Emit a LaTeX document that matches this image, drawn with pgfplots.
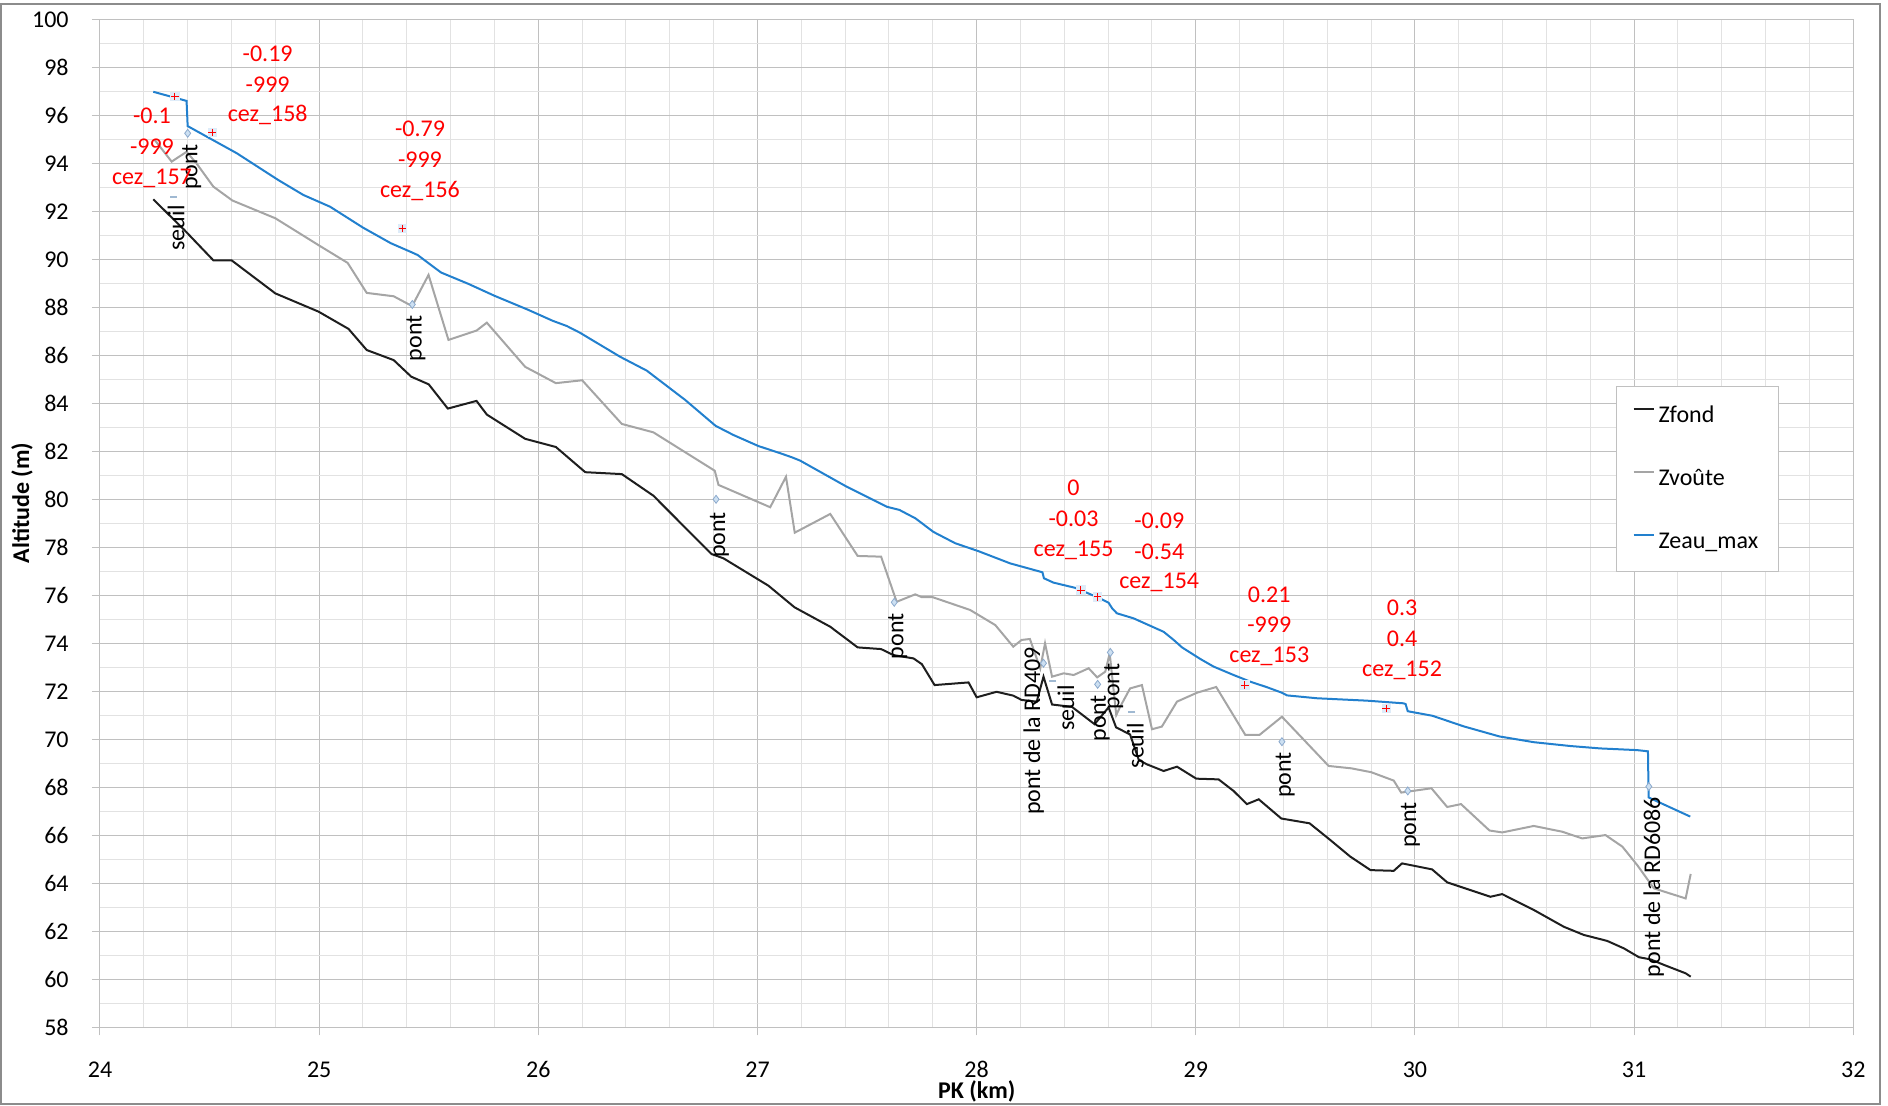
\documentclass[border=0pt]{standalone}
\usepackage{pgfplots}
\pgfplotsset{compat=1.18}
\usepackage{fontspec}
\setmainfont{Carlito}

\definecolor{gridmaj}{RGB}{192,192,192}
\definecolor{gridmin}{RGB}{226,226,226}
\definecolor{framecol}{RGB}{140,140,140}
\definecolor{fondcol}{RGB}{30,30,30}
\definecolor{voutecol}{RGB}{165,165,165}
\definecolor{eaucol}{RGB}{34,128,206}
\definecolor{diafill}{RGB}{205,224,242}
\definecolor{diaedge}{RGB}{140,170,205}
\definecolor{plusbg}{RGB}{222,236,249}
\definecolor{seuilcol}{RGB}{160,185,210}

\newcommand{\lbl}{\fontsize{12}{14}\selectfont}

\begin{document}
\begin{tikzpicture}
% page frame (1 px = 0.5 pt)
\useasboundingbox (-50pt,-38.85pt) rectangle (894pt,513.65pt);
\draw[framecol, line width=0.6pt] (-49.5pt,-38.35pt) rectangle (890pt,511.65pt);
\begin{axis}[
  at={(0pt,0pt)}, anchor=south west,
  scale only axis, width=876.65pt, height=504pt,
  xmin=24, xmax=32, ymin=58, ymax=100,
  xtick={24,25,...,32}, ytick={58,60,...,100},
  minor x tick num=4, minor y tick num=1,
  grid=both,
  major grid style={draw=gridmaj, line width=0.5pt},
  minor grid style={draw=gridmin, line width=0.5pt},
  axis line style={draw=gridmaj, line width=0.5pt},
  tick pos=left, tick align=outside,
  major tick length=4pt, minor tick length=0pt,
  tick style={draw=gridmaj, line width=0.5pt},
  /pgf/number format/assume math mode=true,
  ticklabel style={font=\lbl, inner sep=0pt},
  xticklabel style={anchor=center, yshift=-17.2pt},
  yticklabel style={anchor=east, xshift=-11.5pt},
  xlabel={\bfseries PK (km)},
  ylabel={\bfseries Altitude (m)},
  label style={font=\lbl, inner sep=0pt},
  xlabel style={at={(axis description cs:0.5,-0.0640)}, anchor=center},
  ylabel style={at={(axis description cs:-0.0445,0.52)}, anchor=center},
  legend style={at={(rel axis cs:0.8647,0.6362)}, anchor=north west,
    draw=gridmaj, fill=white, font=\lbl,
    inner xsep=8pt, inner ysep=7pt, row sep=16pt,
    nodes={inner sep=2pt, text height=9pt, text depth=2.5pt},
    cells={anchor=west}},
  legend image code/.code={\draw[#1] (0pt,3.6pt) -- (10pt,3.6pt);},
  legend cell align=left,
]

% Zfond
\addplot[fondcol, line width=1pt] coordinates {
(24.243,92.50) (24.385,91.22) (24.517,89.96) (24.600,89.96) (24.800,88.58)
(24.997,87.82) (25.134,87.10) (25.217,86.22) (25.340,85.80) (25.420,85.11)
(25.500,84.79) (25.587,83.78) (25.718,84.10) (25.765,83.53) (25.940,82.52)
(26.080,82.18) (26.214,81.13) (26.381,81.05) (26.525,80.15) (26.790,77.72)
(26.845,77.54) (27.050,76.40) (27.169,75.50) (27.332,74.69) (27.457,73.83)
(27.564,73.76) (27.620,73.51) (27.712,73.37) (27.750,73.13) (27.808,72.26)
(27.963,72.37) (28.000,71.75) (28.091,71.98) (28.167,71.82) (28.205,71.64)
(28.274,71.57) (28.305,72.61) (28.344,71.45) (28.435,71.35) (28.538,70.63)
(28.602,71.33) (28.636,70.50) (28.700,70.20) (28.740,69.14) (28.776,68.96)
(28.853,68.68) (28.914,68.86) (29.002,68.36) (29.104,68.33) (29.172,67.85)
(29.233,67.30) (29.287,67.50) (29.390,66.70) (29.519,66.50) (29.614,65.80)
(29.705,65.11) (29.797,64.55) (29.903,64.52) (29.941,64.83) (30.078,64.58)
(30.147,64.04) (30.344,63.44) (30.398,63.55) (30.542,62.89) (30.679,62.19)
(30.770,61.85) (30.877,61.60) (30.953,61.29) (31.022,60.92) (31.075,60.83)
(31.136,60.60) (31.235,60.25) (31.258,60.11)
};
\addlegendentry{Zfond}

% Zvoute
\addplot[voutecol, line width=1pt] coordinates {
(24.250,94.97) (24.327,94.07) (24.395,94.48) (24.440,94.00) (24.517,93.03)
(24.604,92.45) (24.800,91.71) (24.999,90.58) (25.130,89.85) (25.217,88.60)
(25.340,88.46) (25.424,88.05) (25.499,89.35) (25.590,86.64) (25.718,87.03)
(25.765,87.36) (25.940,85.52) (26.080,84.84) (26.200,84.96) (26.381,83.14)
(26.525,82.79) (26.805,81.19) (26.822,80.60) (27.058,79.67) (27.130,80.94)
(27.170,78.61) (27.332,79.39) (27.457,77.64) (27.564,77.61) (27.635,75.73)
(27.720,76.04) (27.750,75.92) (27.800,75.92) (27.970,75.39) (28.085,74.76)
(28.167,73.86) (28.205,74.14) (28.243,74.18) (28.290,72.95) (28.312,74.00)
(28.344,72.61) (28.397,72.75) (28.443,72.68) (28.511,72.96) (28.550,72.58)
(28.587,72.82) (28.607,73.58) (28.637,71.01) (28.655,71.36) (28.700,72.12)
(28.754,72.26) (28.800,70.42) (28.845,70.53) (28.914,71.57) (29.005,71.94)
(29.093,72.18) (29.226,70.18) (29.290,70.18) (29.393,70.94) (29.606,68.89)
(29.710,68.79) (29.800,68.63) (29.903,68.28) (29.937,67.78) (30.075,67.96)
(30.147,67.18) (30.210,67.30) (30.340,66.20) (30.398,66.12) (30.542,66.39)
(30.672,66.15) (30.763,65.87) (30.869,66.01) (30.946,65.53) (31.014,64.76)
(31.090,63.79) (31.235,63.37) (31.258,64.39)
};
\addlegendentry{Zvoûte}

% Zeau_max
\addplot[eaucol, line width=1pt] coordinates {
(24.243,96.98) (24.395,96.60) (24.400,95.55) (24.624,94.42) (24.814,93.30)
(24.928,92.68) (25.050,92.19) (25.200,91.32) (25.327,90.67) (25.425,90.28)
(25.449,90.18) (25.556,89.45) (25.680,88.98) (25.800,88.48) (25.955,87.89)
(26.065,87.44) (26.130,87.22) (26.190,86.94) (26.373,85.94) (26.495,85.36)
(26.670,84.14) (26.809,83.06) (26.890,82.68) (27.004,82.22) (27.104,81.92)
(27.157,81.75) (27.195,81.61) (27.408,80.52) (27.590,79.69) (27.647,79.56)
(27.720,79.21) (27.803,78.64) (27.902,78.17) (28.008,77.84) (28.153,77.33)
(28.300,76.96) (28.307,76.71) (28.350,76.53) (28.450,76.31) (28.556,75.90)
(28.602,75.69) (28.618,75.46) (28.640,75.25) (28.716,75.04) (28.853,74.48)
(28.899,74.14) (28.937,73.83) (29.020,73.35) (29.081,73.03) (29.172,72.68)
(29.249,72.40) (29.325,72.17) (29.393,71.94) (29.416,71.83) (29.553,71.71)
(29.781,71.61) (29.947,71.50) (29.957,71.47) (29.967,71.17) (30.080,70.98)
(30.222,70.54) (30.385,70.12) (30.542,69.88) (30.709,69.72) (30.846,69.62)
(31.013,69.55) (31.063,69.50) (31.066,67.58) (31.108,67.40) (31.256,66.78)
};
\addlegendentry{Zeau\_max}

% measured water levels (cez stations)
\addplot[forget plot, only marks, color=plusbg, mark=square*, mark size=2.1pt,
  mark options={draw=plusbg, fill=plusbg}] coordinates {
(24.342,96.78) (24.512,95.28) (25.380,91.29) (28.476,76.22) (28.552,75.94)
(29.223,72.26) (29.869,71.29)
};
\addplot[forget plot, only marks, color=red, mark=+, mark size=1.9pt,
  mark options={draw=red, line width=0.5pt}] coordinates {
(24.342,96.78) (24.512,95.28) (25.380,91.29) (28.476,76.22) (28.552,75.94)
(29.223,72.26) (29.869,71.29)
};

% bridges (pont)
\addplot[forget plot, only marks, color=diaedge, mark=diamond*, mark size=2pt,
  mark options={draw=diaedge, fill=diafill, line width=0.4pt}] coordinates {
(24.400,95.25) (25.425,88.12) (26.811,80.00) (27.624,75.71) (28.305,73.17)
(28.552,72.29) (28.610,73.62) (29.393,69.90) (29.967,67.85) (31.067,68.03)
};

% weirs (seuil)
\addplot[forget plot, only marks, color=seuilcol, mark=-, mark size=1.8pt,
  mark options={draw=seuilcol, line width=1.2pt}] coordinates {
(24.336,92.60) (28.347,72.43) (28.708,71.15)
};

% structure names
\node[rotate=90, anchor=east, inner sep=0pt, font=\lbl] at (axis cs:24.347,92.26) {seuil};
\node[rotate=90, anchor=east, inner sep=0pt, font=\lbl] at (axis cs:24.418,94.82) {pont};
\node[rotate=90, anchor=east, inner sep=0pt, font=\lbl] at (axis cs:25.442,87.68) {pont};
\node[rotate=90, anchor=east, inner sep=0pt, font=\lbl] at (axis cs:26.826,79.48) {pont};
\node[rotate=90, anchor=east, inner sep=0pt, font=\lbl] at (axis cs:27.640,75.26) {pont};
\node[rotate=90, anchor=east, inner sep=0pt, font=\lbl] at (axis cs:28.260,73.86) {pont de la RD409};
\node[rotate=90, anchor=east, inner sep=0pt, font=\lbl] at (axis cs:28.407,72.26) {seuil};
\node[rotate=90, anchor=east, inner sep=0pt, font=\lbl] at (axis cs:28.564,71.85) {pont};
\node[rotate=90, anchor=east, inner sep=0pt, font=\lbl] at (axis cs:28.625,73.17) {pont};
\node[rotate=90, anchor=east, inner sep=0pt, font=\lbl] at (axis cs:28.724,70.68) {seuil};
\node[rotate=90, anchor=east, inner sep=0pt, font=\lbl] at (axis cs:29.408,69.48) {pont};
\node[rotate=90, anchor=east, inner sep=0pt, font=\lbl] at (axis cs:29.979,67.40) {pont};
\node[rotate=90, anchor=east, inner sep=0pt, font=\lbl] at (axis cs:31.089,67.61) {pont de la RD6086};

% station labels
\node[red, inner sep=0pt, font=\lbl] at (axis cs:24.237,95.97) {-0.1};
\node[red, inner sep=0pt, font=\lbl] at (axis cs:24.237,94.69) {-999};
\node[red, inner sep=0pt, font=\lbl] at (axis cs:24.237,93.375) {cez\_157};
\node[red, inner sep=0pt, font=\lbl] at (axis cs:24.765,98.58) {-0.19};
\node[red, inner sep=0pt, font=\lbl] at (axis cs:24.765,97.29) {-999};
\node[red, inner sep=0pt, font=\lbl] at (axis cs:24.765,96.01) {cez\_158};
\node[red, inner sep=0pt, font=\lbl] at (axis cs:25.460,95.42) {-0.79};
\node[red, inner sep=0pt, font=\lbl] at (axis cs:25.460,94.17) {-999};
\node[red, inner sep=0pt, font=\lbl] at (axis cs:25.460,92.86) {cez\_156};
\node[red, inner sep=0pt, font=\lbl] at (axis cs:28.442,80.50) {0};
\node[red, inner sep=0pt, font=\lbl] at (axis cs:28.442,79.18) {-0.03};
\node[red, inner sep=0pt, font=\lbl] at (axis cs:28.442,77.89) {cez\_155};
\node[red, inner sep=0pt, font=\lbl] at (axis cs:28.833,79.11) {-0.09};
\node[red, inner sep=0pt, font=\lbl] at (axis cs:28.833,77.82) {-0.54};
\node[red, inner sep=0pt, font=\lbl] at (axis cs:28.833,76.53) {cez\_154};
\node[red, inner sep=0pt, font=\lbl] at (axis cs:29.335,76.01) {0.21};
\node[red, inner sep=0pt, font=\lbl] at (axis cs:29.335,74.76) {-999};
\node[red, inner sep=0pt, font=\lbl] at (axis cs:29.335,73.47) {cez\_153};
\node[red, inner sep=0pt, font=\lbl] at (axis cs:29.941,75.46) {0.3};
\node[red, inner sep=0pt, font=\lbl] at (axis cs:29.941,74.17) {0.4};
\node[red, inner sep=0pt, font=\lbl] at (axis cs:29.941,72.89) {cez\_152};
\end{axis}
\end{tikzpicture}
\end{document}
